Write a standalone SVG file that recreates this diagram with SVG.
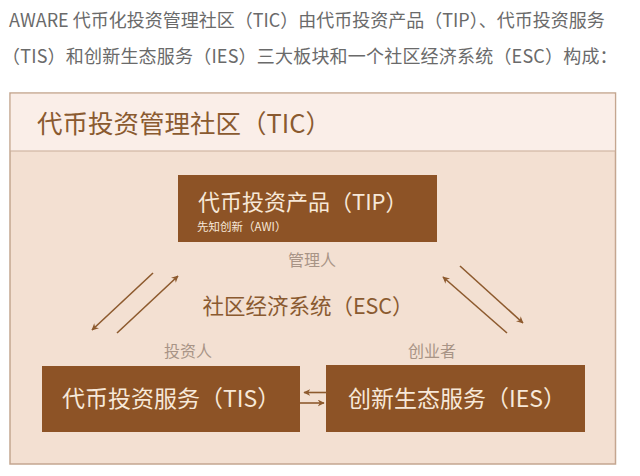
<svg xmlns="http://www.w3.org/2000/svg" width="640" height="476" viewBox="0 0 640 476">
<style>
.cjk{font-family:"Noto Sans CJK SC","Noto Sans",sans-serif}
.intro{font-size:18px;fill:#6a6a6a}
.box{fill:#8d5326}
.boxt{fill:#f7e8d8}
.lab{font-size:16px;fill:#a89486}
.ln{stroke:#8d5a2e;stroke-width:1.6;fill:none}
</style>
<defs>
<marker id="ah" viewBox="0 0 10 10" refX="9" refY="5" markerWidth="7" markerHeight="7" markerUnits="userSpaceOnUse" orient="auto">
<path d="M0,0 L10,5 L0,10 L3,5 Z" fill="#8d5a2e"/>
</marker>
</defs>
<rect width="640" height="476" fill="#ffffff"/>
<text class="cjk intro" x="9" y="27">AWARE 代币化投资管理社区（TIC）由代币投资产品（TIP）、代币投资服务</text>
<text class="cjk intro" x="2" y="63" letter-spacing="0.2">（TIS）和创新生态服务（IES）三大板块和一个社区经济系统（ESC）构成：</text>
<g id="frame">
<rect x="10" y="93" width="605.5" height="371" fill="#f3e0d2" stroke="#c4a690" stroke-width="1.5"/>
<rect x="10.75" y="93.75" width="604" height="57" fill="#faeee8"/>
<line x1="10" y1="151" x2="615.5" y2="151" stroke="#c9ae9a" stroke-width="1.2"/>
<text class="cjk" x="37" y="133" font-size="25.5" fill="#8a5a30">代币投资管理社区（TIC）</text>
</g>
<g id="tip">
<rect class="box" x="178" y="175" width="259" height="67"/>
<text class="cjk boxt" x="198" y="210" font-size="22">代币投资产品（TIP）</text>
<text class="cjk boxt" x="197" y="231" font-size="11.5">先知创新（AWI）</text>
</g>
<g id="tis">
<rect class="box" x="42" y="366" width="258" height="66"/>
<text class="cjk boxt" x="62" y="407" font-size="23">代币投资服务（TIS）</text>
</g>
<g id="ies">
<rect class="box" x="326" y="365" width="259" height="67"/>
<text class="cjk boxt" x="348" y="407" font-size="23">创新生态服务（IES）</text>
</g>
<g id="esc">
<text class="cjk" x="308" y="314" font-size="21.5" fill="#8a5a30" text-anchor="middle">社区经济系统（ESC）</text>
</g>
<g id="labels">
<text class="cjk lab" x="312" y="266" text-anchor="middle">管理人</text>
<text class="cjk lab" x="188" y="357" text-anchor="middle">投资人</text>
<text class="cjk lab" x="432" y="357" text-anchor="middle">创业者</text>
</g>
<g id="connectors">
<line class="ln" x1="153" y1="273" x2="92" y2="330" marker-end="url(#ah)"/>
<line class="ln" x1="117" y1="333" x2="178" y2="276" marker-end="url(#ah)"/>
<line class="ln" x1="507" y1="333" x2="443" y2="277" marker-end="url(#ah)"/>
<line class="ln" x1="460" y1="266" x2="523" y2="323" marker-end="url(#ah)"/>
<line class="ln" x1="327" y1="392.5" x2="304" y2="392.5" marker-end="url(#ah)"/>
<line class="ln" x1="300" y1="403" x2="324" y2="403" marker-end="url(#ah)"/>
</g>
</svg>
